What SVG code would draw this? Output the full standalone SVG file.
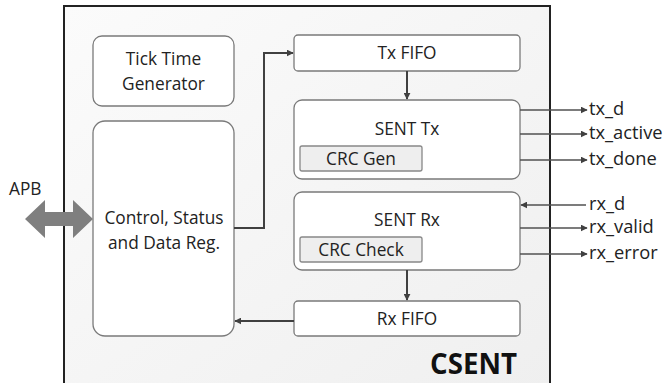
<svg xmlns="http://www.w3.org/2000/svg" width="665" height="383" viewBox="0 0 665 383">
<defs>
<linearGradient id="bg" x1="0" y1="0" x2="1" y2="1">
<stop offset="0" stop-color="#fbfbfb"/>
<stop offset="1" stop-color="#efefef"/>
</linearGradient>
<marker id="ah" viewBox="0 0 10 10" refX="9" refY="5" markerWidth="7" markerHeight="7" markerUnits="userSpaceOnUse" orient="auto">
<path d="M0,0 L10,5 L0,10 z" fill="#404040"/>
</marker>
</defs>
<style>
.blk{fill:#fff;stroke:#7a7a7a;stroke-width:1.3}
.sub{fill:#eeeeee;stroke:#888;stroke-width:1.3}
.t{font-family:"Open Sans","Noto Sans","Liberation Sans",sans-serif;font-size:17.3px;fill:#222;text-anchor:middle}
.lab{font-family:"Open Sans","Noto Sans","Liberation Sans",sans-serif;font-size:18.3px;fill:#222}
.c{fill:none;stroke:#404040;stroke-width:2}
.s{fill:none;stroke:#505050;stroke-width:1.5}
</style>
<rect id="outer" x="64" y="6" width="486" height="390" fill="url(#bg)" stroke="#222" stroke-width="2"/>
<g id="tick"><rect class="blk" x="93" y="36" width="141" height="70" rx="9"/><text class="t" x="163.5" y="65">Tick Time</text><text class="t" x="163.5" y="90">Generator</text></g>
<g id="ctrl"><rect class="blk" x="93" y="121" width="141" height="215" rx="12"/><text class="t" x="164" y="224">Control, Status</text><text class="t" x="164" y="249">and Data Reg.</text></g>
<g id="txfifo"><rect class="blk" x="294" y="35" width="226" height="36" rx="4"/><text class="t" x="407" y="59">Tx FIFO</text></g>
<g id="senttx"><rect class="blk" x="294" y="100" width="226" height="79" rx="8"/><text class="t" x="407" y="135">SENT Tx</text>
<g id="crcgen"><rect class="sub" x="300" y="146" width="122" height="25" rx="2"/><text class="t" x="361" y="165">CRC Gen</text></g></g>
<g id="sentrx"><rect class="blk" x="294" y="192" width="226" height="78" rx="8"/><text class="t" x="407" y="226">SENT Rx</text>
<g id="crccheck"><rect class="sub" x="300" y="237" width="122" height="25" rx="2"/><text class="t" x="361" y="256">CRC Check</text></g></g>
<g id="rxfifo"><rect class="blk" x="294" y="301" width="226" height="35" rx="4"/><text class="t" x="407" y="325">Rx FIFO</text></g>
<g id="apb"><path d="M25,219 L45,200 L45,212 L73,212 L73,200 L93,219 L73,238 L73,226 L45,226 L45,238 Z" fill="#7f7f7f"/><text class="lab" x="9" y="195" style="font-size:17.3px">APB</text></g>
<g id="connectors">
<path class="c" d="M234,228 H264 V53 H293" marker-end="url(#ah)"/>
<path class="c" d="M294,321 H235" marker-end="url(#ah)"/>
<path class="c" d="M407,71 V99" marker-end="url(#ah)"/>
<path class="c" d="M407,270 V300" marker-end="url(#ah)"/>
<path class="s" d="M520,110 H587" marker-end="url(#ah)"/>
<path class="s" d="M520,134 H587" marker-end="url(#ah)"/>
<path class="s" d="M520,160 H587" marker-end="url(#ah)"/>
<path class="s" d="M586,205 H521" marker-end="url(#ah)"/>
<path class="s" d="M520,228 H587" marker-end="url(#ah)"/>
<path class="s" d="M520,254 H587" marker-end="url(#ah)"/>
</g>
<g id="labels">
<text class="lab" x="589" y="115">tx_d</text>
<text class="lab" x="589" y="139">tx_active</text>
<text class="lab" x="589" y="165">tx_done</text>
<text class="lab" x="589" y="210">rx_d</text>
<text class="lab" x="589" y="233">rx_valid</text>
<text class="lab" x="589" y="259">rx_error</text>
</g>
<text x="517" y="374" font-family="'Open Sans','Noto Sans','Liberation Sans',sans-serif" font-size="29" font-weight="bold" fill="#111" text-anchor="end" textLength="87" lengthAdjust="spacingAndGlyphs">CSENT</text>
</svg>
